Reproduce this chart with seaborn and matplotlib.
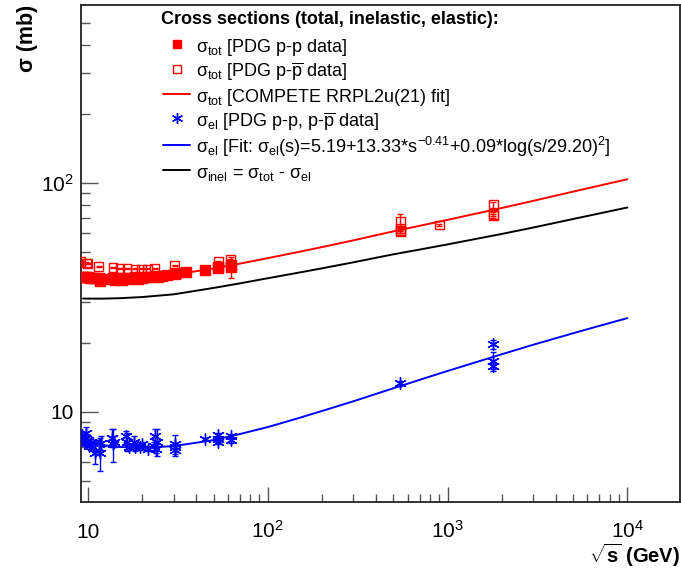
import matplotlib
matplotlib.use('Agg')
import pandas as pd
import matplotlib.pyplot as plt
import seaborn as sns
from matplotlib.lines import Line2D
from matplotlib.ticker import FixedLocator, FixedFormatter, LogLocator, NullFormatter

# Fit curves
fit_sqrts = [9.4, 10, 12, 15, 20, 30, 50, 70, 100, 150, 200, 300, 500, 700, 1000, 2000, 3000, 5000, 7000, 10000]
fit_tot = [38.6, 38.5, 38.3, 38.3, 38.6, 39.6, 42.2, 44.3, 46.8, 49.9, 52.3, 56.0, 61.3, 64.8, 68.8, 77.5, 83.3, 91.4, 97.1, 103.5]
fit_el = [7.42, 7.34, 7.15, 7.01, 6.95, 7.07, 7.51, 7.98, 8.56, 9.39, 10.06, 11.1, 12.65, 13.77, 15.05, 17.8, 19.6, 22.0, 23.7, 25.6]
fit_inel = [31.18, 31.16, 31.15, 31.29, 31.65, 32.53, 34.69, 36.32, 38.24, 40.51, 42.24, 44.9, 48.65, 51.03, 53.75, 59.7, 63.7, 69.4, 73.4, 77.9]

# sigma_tot, PDG p-p data
pp_tot_sqrts = [9.3, 9.6, 9.8, 10.0, 10.3, 10.6, 11.0, 11.5, 11.7, 12.3, 13.8, 14.2, 15.1, 15.5, 16.5, 17.0,
                18.3, 19.0, 19.4, 20.0, 21.4, 22.0, 23.5, 24.5, 26.0, 27.4, 30.6, 31.0, 35.0, 44.7, 52.8, 53.0,
                62.5, 62.7]
pp_tot = [38.9, 38.7, 38.8, 38.6, 38.5, 38.4, 38.3, 38.2, 37.2, 38.0, 38.3, 37.6, 38.4, 37.5, 38.5, 38.0,
          38.6, 37.8, 38.8, 38.3, 38.7, 38.9, 39.0, 38.6, 39.2, 39.4, 40.1, 40.5, 40.6, 41.7, 42.4, 43.0,
          43.5, 42.8]
pp_tot_err = [0.3, 0.2, 0.2, 0.2, 0.2, 0.2, 0.2, 0.2, 0.6, 0.2, 0.3, 0.4, 0.2, 0.4, 0.2, 0.3,
              0.2, 0.4, 0.2, 0.3, 0.2, 0.3, 0.3, 0.3, 0.3, 0.3, 0.4, 0.4, 0.4, 0.3, 0.3, 0.4,
              0.4, 4.5]

# sigma_tot, PDG p-pbar data
ppbar_tot_sqrts = [9.15, 9.8, 10.0, 11.5, 13.8, 15.1, 16.5, 18.3, 19.9, 21.4, 23.5, 30.4, 53.0, 62.0,
                   546, 546, 546, 546, 900, 1800, 1800, 1800]
ppbar_tot = [45.1, 44.6, 44.2, 43.1, 42.5, 42.2, 42.1, 42.0, 42.0, 42.0, 42.2, 43.4, 45.3, 46.0,
             67.5, 63.3, 61.9, 61.3, 65.3, 80.0, 72.8, 71.7]
ppbar_tot_err = [0.3, 0.3, 0.2, 0.2, 0.2, 0.2, 0.2, 0.2, 0.2, 0.2, 0.2, 0.3, 0.4, 0.4,
                 5.5, 1.5, 1.5, 0.9, 0.7, 2.2, 1.5, 1.3]

# sigma_el, PDG p-p and p-pbar data
el_sqrts = [9.3, 9.5, 9.7, 9.8, 10.0, 10.1, 10.4, 10.7, 11.0, 11.5, 11.7, 11.8, 13.7, 13.8, 13.9,
            16.3, 16.5, 17.0, 18.0, 18.3, 19.4, 19.9, 21.7, 23.2, 23.5, 24.1, 23.9, 30.4, 30.6, 30.7,
            44.7, 52.8, 53.0, 53.2, 62.3, 62.5, 546, 1800, 1800, 1800]
el = [7.9, 7.6, 7.3, 8.1, 7.5, 7.1, 7.4, 7.0, 6.6, 7.2, 6.6, 7.3, 7.7, 7.2, 7.4,
      7.8, 7.4, 7.0, 7.4, 7.0, 7.0, 7.2, 6.9, 7.1, 7.8, 7.4, 6.9, 7.0, 7.2, 6.8,
      7.6, 7.6, 7.9, 7.4, 7.8, 7.5, 13.3, 19.7, 16.6, 15.9]
el_err = [0.35, 0.3, 0.2, 0.5, 0.3, 0.2, 0.2, 0.3, 0.7, 0.3, 1.1, 0.5, 0.7, 1.2, 0.4,
          0.4, 0.7, 0.2, 0.4, 0.3, 0.2, 0.2, 0.15, 0.3, 0.6, 1.0, 0.3, 0.3, 0.7, 0.4,
          0.1, 0.2, 0.2, 0.2, 0.2, 0.2, 0.3, 0.85, 1.6, 0.6]

x_ticks = [10, 100, 1000, 10000]
x_ticklabels = ['10', r'$10^{2}$', r'$10^{3}$', r'$10^{4}$']
y_ticks = [10, 100]
y_ticklabels = ['10', r'$10^{2}$']

legend_title = 'Cross sections (total, inelastic, elastic):'
legend_labels = [
    r'$\sigma_{tot}$ [PDG p-p data]',
    r'$\sigma_{tot}$ [PDG p-$\overline{\mathrm{p}}$ data]',
    r'$\sigma_{tot}$ [COMPETE RRPL2u(21) fit]',
    r'$\sigma_{el}$ [PDG p-p, p-$\overline{\mathrm{p}}$ data]',
    r'$\sigma_{el}$ [Fit: $\sigma_{el}$(s)=5.19+13.33*s$^{-0.41}$+0.09*log(s/29.20)$^{2}$]',
    r'$\sigma_{inel}$ = $\sigma_{tot}$ - $\sigma_{el}$',
]

sns.set_theme(style='white')
plt.rcParams['font.family'] = ['Liberation Sans', 'DejaVu Sans']
plt.rcParams['mathtext.fontset'] = 'custom'
plt.rcParams['mathtext.rm'] = 'Liberation Sans'
plt.rcParams['mathtext.it'] = 'Liberation Sans'
plt.rcParams['mathtext.sf'] = 'Liberation Sans'
plt.rcParams['mathtext.bf'] = 'Liberation Sans:bold'
plt.rcParams['text.color'] = 'black'

fig = plt.figure(figsize=(6.81, 5.71), dpi=100)
ax = fig.add_axes([80.5 / 681, 69 / 571, 599 / 681, 497 / 571])

fits = pd.DataFrame({'sqrts': fit_sqrts, 'tot': fit_tot, 'el': fit_el, 'inel': fit_inel})
sns.lineplot(data=fits, x='sqrts', y='tot', color='red', lw=1.4, estimator=None, ax=ax, zorder=2)
sns.lineplot(data=fits, x='sqrts', y='el', color='blue', lw=1.4, estimator=None, ax=ax, zorder=2)
sns.lineplot(data=fits, x='sqrts', y='inel', color='black', lw=1.4, estimator=None, ax=ax, zorder=2)

# data points with error bars
ax.errorbar(pp_tot_sqrts, pp_tot, yerr=pp_tot_err, fmt='none', ecolor='red', elinewidth=1, capsize=2, zorder=3)
ax.errorbar(ppbar_tot_sqrts, ppbar_tot, yerr=ppbar_tot_err, fmt='none', ecolor='red', elinewidth=1, capsize=2, zorder=3)
ax.errorbar(el_sqrts, el, yerr=el_err, fmt='none', ecolor='blue', elinewidth=1, capsize=2, zorder=3)

sns.scatterplot(x=pp_tot_sqrts, y=pp_tot, marker='s', color='red', edgecolor='red', s=42, linewidth=1,
                ax=ax, zorder=4, legend=False)
sns.scatterplot(x=ppbar_tot_sqrts, y=ppbar_tot, marker='s', color='red', facecolor='none', edgecolor='red',
                s=40, linewidth=1, ax=ax, zorder=4, legend=False)
sns.scatterplot(x=el_sqrts, y=el, marker=(6, 2, 0), color='blue', edgecolor='blue', s=70, linewidth=1,
                ax=ax, zorder=4, legend=False)

ax.set_xscale('log')
ax.set_yscale('log')
ax.set_xlim(9.1, 19500)
ax.set_ylim(4.03, 597)

ax.xaxis.set_major_locator(FixedLocator(x_ticks))
ax.xaxis.set_major_formatter(FixedFormatter(x_ticklabels))
ax.xaxis.set_minor_locator(LogLocator(base=10, subs=range(2, 10)))
ax.xaxis.set_minor_formatter(NullFormatter())
ax.yaxis.set_major_locator(FixedLocator(y_ticks))
ax.yaxis.set_major_formatter(FixedFormatter(y_ticklabels))
ax.yaxis.set_minor_locator(LogLocator(base=10, subs=range(2, 10)))
ax.yaxis.set_minor_formatter(NullFormatter())

ax.tick_params(which='both', direction='in', top=False, right=False, bottom=True, left=True,
               color='#555555', width=1, labelcolor='black', labelsize=15)
ax.tick_params(axis='x', which='major', length=11, pad=26)
ax.tick_params(axis='x', which='minor', length=5.5)
ax.tick_params(axis='y', which='major', length=12, pad=5)
ax.tick_params(axis='y', which='minor', length=6.5)
for lbl in ax.get_xticklabels():
    lbl.set_va('baseline')
for lbl in ax.get_yticklabels():
    lbl.set_va('center_baseline')

for sp in ax.spines.values():
    sp.set_color('#222222')
    sp.set_linewidth(1.3)

ax.set_xlabel('')
ax.set_ylabel('')
fig.text(680 / 681, 8 / 571, r'$\sqrt{\mathbf{s}}$ (GeV)', ha='right', va='baseline',
         fontsize=14.5, fontweight='bold')
fig.text(28 / 681, 1 - 5 / 571, 'σ (mb)', rotation=90, ha='center', va='top',
         fontsize=15.5, fontweight='bold')

# legend: title as its own text, entries as a frameless legend
fig.text(161 / 681, 1 - 20 / 571, legend_title, ha='left', va='center',
         fontsize=13, fontweight='bold')
handles = [
    Line2D([], [], ls='none', marker='s', color='red', markersize=6),
    Line2D([], [], ls='none', marker='s', mfc='none', mec='red', markersize=6, mew=1),
    Line2D([], [], color='red', lw=1.4),
    Line2D([], [], ls='none', marker=(6, 2, 0), color='blue', markersize=8, mew=1),
    Line2D([], [], color='blue', lw=1.4),
    Line2D([], [], color='black', lw=1.4),
]
ax.legend(handles, legend_labels, loc='upper left', bbox_to_anchor=(163 / 681, 1 - 36 / 571),
          bbox_transform=fig.transFigure, frameon=False, fontsize=13,
          handlelength=1.5, handletextpad=0.35, handleheight=1.38, labelspacing=0.13,
          borderpad=0, borderaxespad=0)

fig.savefig('out.png', dpi=100)
